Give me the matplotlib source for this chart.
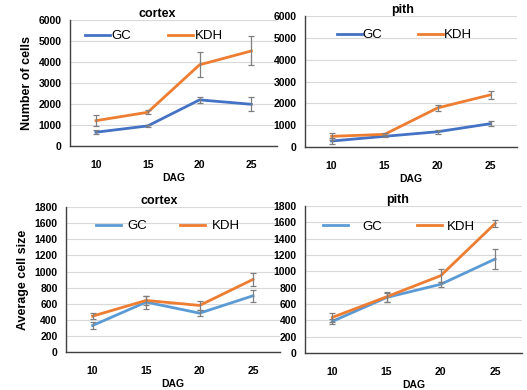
import matplotlib
matplotlib.use("Agg")
import matplotlib.pyplot as plt
import numpy as np

dag = ["10", "15", "20", "25"]

cortex_n_gc = [650, 950, 2190, 1980]
cortex_n_gc_err = [90, 60, 130, 330]
cortex_n_kdh = [1200, 1600, 3860, 4520]
cortex_n_kdh_err = [260, 100, 600, 690]

pith_n_gc = [275, 490, 700, 1070]
pith_n_gc_err = [120, 50, 100, 110]
pith_n_kdh = [490, 580, 1790, 2390]
pith_n_kdh_err = [170, 50, 120, 175]

cortex_s_gc = [331, 621, 484, 700]
cortex_s_gc_err = [40, 80, 35, 75]
cortex_s_kdh = [447, 642, 580, 903]
cortex_s_kdh_err = [40, 60, 60, 85]

pith_s_gc = [386, 679, 841, 1150]
pith_s_gc_err = [30, 60, 30, 125]
pith_s_kdh = [435, 687, 947, 1585]
pith_s_kdh_err = [50, 60, 75, 40]

plt.rcParams['font.family'] = ['Liberation Sans', 'DejaVu Sans']

fig = plt.figure(figsize=(5.27, 3.9), dpi=100)

panels = [
    dict(rect=[0.133, 0.626, 0.393, 0.323], title="cortex", tx=0.42, ylabel="Number of cells",
         gc=cortex_n_gc, gce=cortex_n_gc_err, kdh=cortex_n_kdh, kdhe=cortex_n_kdh_err,
         ymax=6000, step=1000, gccol="#4472C4",
         legy=0.92, leg_gc=(0.072, 0.1), leg_kdh=(0.473, 0.1)),
    dict(rect=[0.579, 0.623, 0.402, 0.336], title="pith", tx=0.46, ylabel=None,
         gc=pith_n_gc, gce=pith_n_gc_err, kdh=pith_n_kdh, kdhe=pith_n_kdh_err,
         ymax=6000, step=1000, gccol="#4472C4",
         legy=0.90, leg_gc=(0.151, 0.05), leg_kdh=(0.533, 0.05)),
    dict(rect=[0.125, 0.097, 0.406, 0.372], title="cortex", tx=0.435, ylabel="Average cell size",
         gc=cortex_s_gc, gce=cortex_s_gc_err, kdh=cortex_s_kdh, kdhe=cortex_s_kdh_err,
         ymax=1800, step=200, gccol="#5B9BD5",
         legy=0.91, leg_gc=(0.140, 0.5), leg_kdh=(0.533, 0.55)),
    dict(rect=[0.579, 0.095, 0.412, 0.377], title="pith", tx=0.424, ylabel=None,
         gc=pith_s_gc, gce=pith_s_gc_err, kdh=pith_s_kdh, kdhe=pith_s_kdh_err,
         ymax=1800, step=200, gccol="#5B9BD5",
         legy=0.90, leg_gc=(0.083, 1.1), leg_kdh=(0.516, 0.35)),
]

x = np.arange(len(dag))
for p in panels:
    ax = fig.add_axes(p["rect"])
    ax.set_xlim(-0.5, 3.5)
    ax.set_ylim(0, p["ymax"])
    ax.set_yticks(np.arange(0, p["ymax"] + 1, p["step"]))
    ax.yaxis.grid(True, color="#D9D9D9", linewidth=0.8)
    ax.set_axisbelow(True)
    l1, = ax.plot(x, p["gc"], color=p["gccol"], linewidth=2, label="GC", zorder=3)
    ax.errorbar(x, p["gc"], yerr=p["gce"], fmt="none", ecolor="#7F7F7F",
                elinewidth=0.9, capsize=2, capthick=0.9, zorder=4)
    l2, = ax.plot(x, p["kdh"], color="#ED7D31", linewidth=2, label="KDH", zorder=3)
    ax.errorbar(x, p["kdh"], yerr=p["kdhe"], fmt="none", ecolor="#7F7F7F",
                elinewidth=0.9, capsize=2, capthick=0.9, zorder=4)
    ax.set_xticks(x)
    ax.set_xticklabels(dag, fontweight="bold", fontsize=7.5)
    for lab in ax.get_yticklabels():
        lab.set_fontweight("bold")
        lab.set_fontsize(7.5)
    ax.tick_params(axis="both", length=0)
    ax.tick_params(axis="x", pad=10)
    ax.tick_params(axis="y", pad=6)
    for s in ["top", "right"]:
        ax.spines[s].set_visible(False)
    for s in ["left", "bottom"]:
        ax.spines[s].set_color("#404040")
        ax.spines[s].set_linewidth(1.0)
    ax.set_title(p["title"], fontweight="bold", fontsize=9, pad=2, x=p["tx"])
    ax.set_xlabel("DAG", fontweight="bold", fontsize=7.5, labelpad=2)
    if p["ylabel"]:
        ax.set_ylabel(p["ylabel"], fontweight="bold", fontsize=9, labelpad=4)
    lg1 = ax.legend(handles=[l1], loc="upper left", bbox_to_anchor=(p["leg_gc"][0], p["legy"]),
                    frameon=False, fontsize=9.5, handlelength=1.9, borderpad=0,
                    borderaxespad=0, handletextpad=p["leg_gc"][1])
    ax.add_artist(lg1)
    ax.legend(handles=[l2], loc="upper left", bbox_to_anchor=(p["leg_kdh"][0], p["legy"]),
              frameon=False, fontsize=9.5, handlelength=1.9, borderpad=0,
              borderaxespad=0, handletextpad=p["leg_kdh"][1])

fig.savefig("out.png", dpi=100)
